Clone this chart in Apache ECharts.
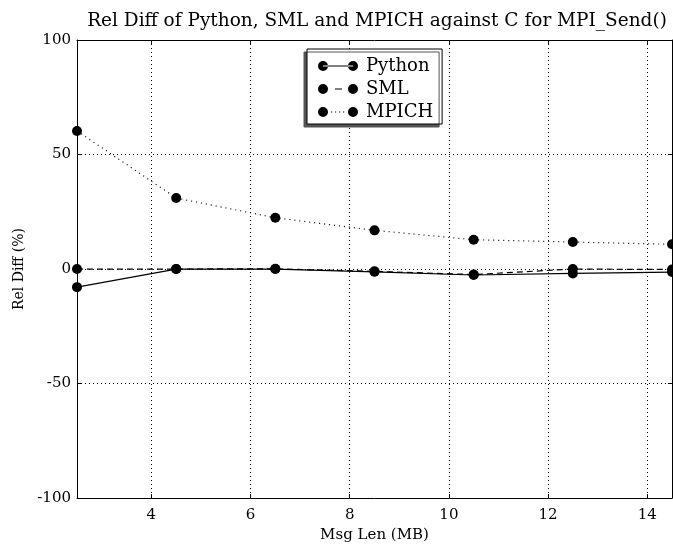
<!DOCTYPE html>
<html>
<head>
<meta charset="utf-8">
<script src="https://cdn.jsdelivr.net/npm/echarts@6/dist/echarts.min.js"></script>
<style>
  html, body { margin: 0; padding: 0; background: #fff; }
  #chart { width: 673px; height: 548px; }
</style>
</head>
<body>
<div id="chart"></div>
<script>
// values
const msgLen = [2.5, 4.5, 6.5, 8.5, 10.5, 12.5, 14.5];
const python = [-7.9, 0, 0, -1.2, -2.6, -1.9, -1.3];
const sml = [0, 0, 0.1, -1.0, -2.4, 0, -0.2];
const mpich = [60.3, 31.0, 22.4, 16.9, 12.8, 11.8, 10.8];

const font = 'DejaVu Serif';

// legend icons: marker - line - marker
const dotL = 'M0,5a5,5 0 1,0 10,0a5,5 0 1,0 -10,0Z ';
const dotR = 'M30,5a5,5 0 1,0 10,0a5,5 0 1,0 -10,0Z ';
const iconSolid = 'path://' + dotL + dotR + 'M5,4.4h30v1.2h-30Z';
const iconDash = 'path://' + dotL + dotR + 'M17,4.4h7v1.2h-7Z';
const iconDot = 'path://' + dotL + dotR + 'M13,4.4h1.2v1.2h-1.2Z M17,4.4h1.2v1.2h-1.2Z M21,4.4h1.2v1.2h-1.2Z M25,4.4h1.2v1.2h-1.2Z';

function pairs(ys) {
  return msgLen.map((x, i) => [x, ys[i]]);
}

const chart = echarts.init(document.getElementById('chart'));

const gridLine = { show: true, lineStyle: { color: '#000', type: [1, 3], width: 1 } };
const tick = { show: true, inside: true, length: 4, lineStyle: { color: '#000' } };
const frame = { show: true, onZero: false, lineStyle: { color: '#000', width: 1 } };

chart.setOption({
  animation: false,
  title: {
    text: 'Rel Diff of Python, SML and MPICH against C for MPI_Send()',
    left: 372, top: 7, textAlign: 'center',
    textStyle: { fontFamily: font, fontWeight: 'normal', fontSize: 18.5, color: '#000' }
  },
  grid: { left: 77, right: 1, top: 40, bottom: 49 },
  legend: {
    left: 307, top: 49,
    orient: 'vertical',
    padding: [8, 9, 3, 11],
    itemGap: 5,
    itemWidth: 40, itemHeight: 10,
    backgroundColor: '#fff',
    borderColor: '#000', borderWidth: 1,
    shadowColor: '#555', shadowBlur: 0, shadowOffsetX: -3, shadowOffsetY: 3,
    textStyle: { fontFamily: font, fontSize: 18, color: '#000', padding: [0, 0, 0, 3] },
    itemStyle: { borderWidth: 0 },
    data: [
      { name: 'Python', icon: iconSolid },
      { name: 'SML', icon: iconDash },
      { name: 'MPICH', icon: iconDot }
    ]
  },
  xAxis: [{
    type: 'value', min: 2.5, max: 14.5,
    name: 'Msg Len (MB)', nameLocation: 'middle', nameGap: 27,
    nameTextStyle: { fontFamily: font, fontSize: 15, color: '#000' },
    axisLine: frame,
    axisTick: tick,
    axisLabel: { fontFamily: font, fontSize: 15, color: '#000', margin: 10, showMinLabel: false, showMaxLabel: false },
    splitLine: gridLine
  }, {
    type: 'value', min: 2.5, max: 14.5, position: 'top',
    axisLine: frame,
    axisTick: tick,
    axisLabel: { show: false },
    splitLine: { show: false }
  }],
  yAxis: [{
    type: 'value', min: -100, max: 100, interval: 50,
    name: 'Rel Diff (%)', nameLocation: 'middle', nameGap: 50,
    nameTextStyle: { fontFamily: font, fontSize: 14, color: '#000' },
    axisLine: frame,
    axisTick: tick,
    axisLabel: { fontFamily: font, fontSize: 15, color: '#000', margin: 6 },
    splitLine: gridLine
  }, {
    type: 'value', min: -100, max: 100, interval: 50, position: 'right',
    axisLine: frame,
    axisTick: tick,
    axisLabel: { show: false },
    splitLine: { show: false }
  }],
  series: [
    {
      name: 'Python', type: 'line', data: pairs(python), clip: false,
      symbol: 'circle', symbolSize: 10, color: '#000',
      lineStyle: { color: '#000', width: 1.2, type: 'solid' },
      itemStyle: { color: '#000' }
    },
    {
      name: 'SML', type: 'line', data: pairs(sml), clip: false,
      symbol: 'circle', symbolSize: 10, color: '#000',
      lineStyle: { color: '#000', width: 1.2, type: [6, 4] },
      itemStyle: { color: '#000' }
    },
    {
      name: 'MPICH', type: 'line', data: pairs(mpich), clip: false,
      symbol: 'circle', symbolSize: 10, color: '#000',
      lineStyle: { color: '#000', width: 1.2, type: [1, 4] },
      itemStyle: { color: '#000' }
    }
  ]
});
</script>
</body>
</html>
